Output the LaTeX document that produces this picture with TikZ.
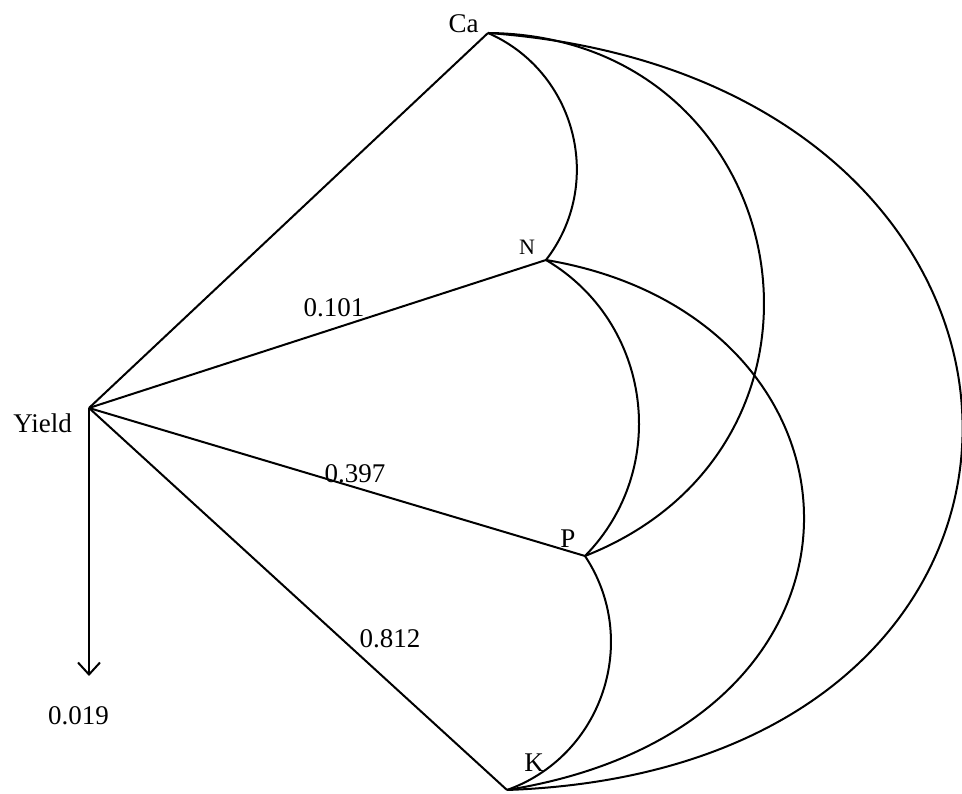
\documentclass[tikz,border=0pt]{standalone}
\usepackage{fontspec}
\setmainfont{Liberation Serif}
\usetikzlibrary{arrows.meta}
\begin{document}
\begin{tikzpicture}[x=1pt,y=1pt,
  edge/.style={line width=2pt, line join=round},
  lbl/.style={inner sep=0pt, anchor=base, font=\fontsize{27}{30}\selectfont}]
\useasboundingbox (0,0) rectangle (962,794);
% points
\coordinate (Y) at (89,386);
\coordinate (Ca) at (488,761);
\coordinate (N) at (546,534);
\coordinate (P) at (585,238);
\coordinate (K) at (507,4);
\coordinate (tip) at (89,118);
% labels
\node[lbl] (lCa) at (463.5,761) {Ca};
\node[lbl,font=\fontsize{22}{26}\selectfont] (lN) at (527,539) {N};
\node[lbl] (lP) at (568,246) {P};
\node[lbl] (lK) at (534,22) {K};
\node[lbl] (lY) at (42.5,361) {Yield};
\node[lbl] (l019) at (78.5,69) {0.019};
\node[lbl] (l101) at (334,477) {0.101};
\node[lbl] (l397) at (355,311) {0.397};
\node[lbl] (l812) at (390,146) {0.812};
% straight paths
\draw[edge] (Y) -- (Ca);
\draw[edge] (Y) -- (N);
\draw[edge] (Y) -- (P);
\draw[edge] (Y) -- (K);
\draw[edge,-{Straight Barb[length=12pt,width=22pt,line width=2pt]}] (Y) -- (tip);
% arcs
\draw[edge] (Ca) to[bend left=52,looseness=1.05] (N);
\draw[edge] (Ca) to[bend left=79,looseness=1.48] (P);
\draw[edge] (Ca) .. controls +(620,-45) and +(620,22) .. (K);
\draw[edge] (N) to[bend left=52,looseness=1.05] (P);
\draw[edge] (N) .. controls +(340,-57) and +(400,64) .. (K);
\draw[edge] (P) to[bend left=52,looseness=1.05] (K);
\end{tikzpicture}
\end{document}
